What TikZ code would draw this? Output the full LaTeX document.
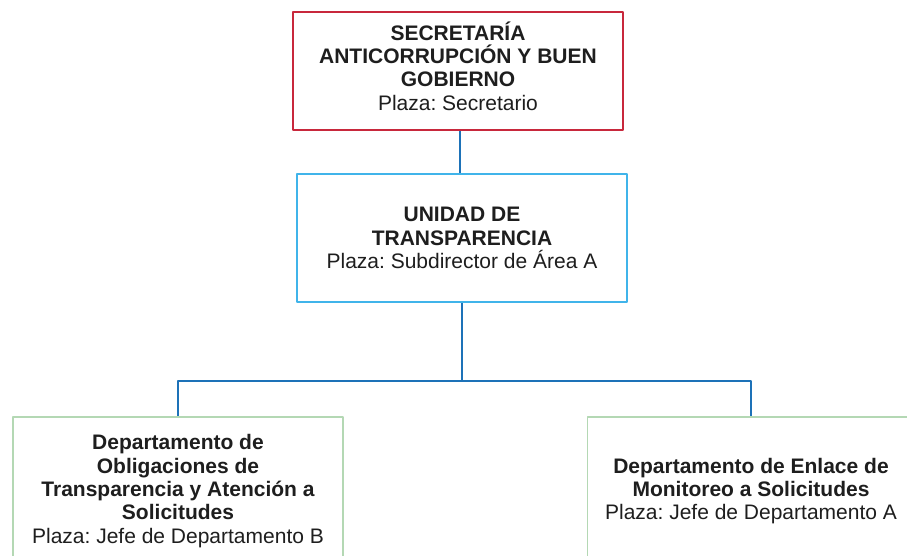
\documentclass[tikz,border=0pt]{standalone}
\usepackage{fontspec}
\setmainfont{Liberation Sans}
\frenchspacing
\definecolor{secred}{HTML}{C8283C}
\definecolor{utblue}{HTML}{40B4EA}
\definecolor{depgreen}{HTML}{B4D8B4}
\definecolor{linkblue}{HTML}{1D72B8}
\definecolor{ink}{HTML}{1E1E1E}
\begin{document}
\begin{tikzpicture}[x=1pt, y=-1pt, line join=round,
  font=\fontsize{21}{23.3}\selectfont, text=ink,
  box/.style={draw, fill=white, align=center, inner sep=0pt},
  secbox/.style={box, draw=secred, line width=2.4pt, minimum width=330pt, minimum height=118pt},
  utbox/.style={box, draw=utblue, line width=2.4pt, minimum width=330pt, minimum height=128pt},
  depbox/.style={box, draw=depgreen, line width=1.3pt, minimum height=148pt},
  link/.style={draw=linkblue, line width=2.8pt}]
  \def\W{907}
  \def\H{555}
  \useasboundingbox (0,0) rectangle (\W,\H);
  \clip (0,0) rectangle (\W,\H);
  \node [secbox] (sec) at (458,71) {};
  \node [align=center, inner sep=0pt] (sectxt) at ([yshift=5pt]sec.center) {\bfseries SECRETARÍA\\ \bfseries ANTICORRUPCIÓN Y BUEN\\ \bfseries GOBIERNO\\ Plaza: Secretario};
  \node [utbox] (ut) at (462,238) {\bfseries UNIDAD DE\\ \bfseries TRANSPARENCIA\\ Plaza: Subdirector de Área A};
  \node [depbox, minimum width=330pt] (depb) at (178,491) {\bfseries Departamento de\\ \bfseries Obligaciones de\\ \bfseries Transparencia y Atención a\\ \bfseries Solicitudes\\ Plaza: Jefe de Departamento B};
  \node [depbox, minimum width=327pt] (depa) at (751,491) {\bfseries Departamento de Enlace de\\ \bfseries Monitoreo a Solicitudes\\ Plaza: Jefe de Departamento A};
  \coordinate (bus) at (ut.south |- 0,381);
  \draw [link] (sec.south -| 460,0) -- (ut.north -| 460,0);
  \draw [link] (ut.south) -- (bus) -| (depb.north);
  \draw [link] (bus) -| (depa.north);
\end{tikzpicture}
\end{document}
